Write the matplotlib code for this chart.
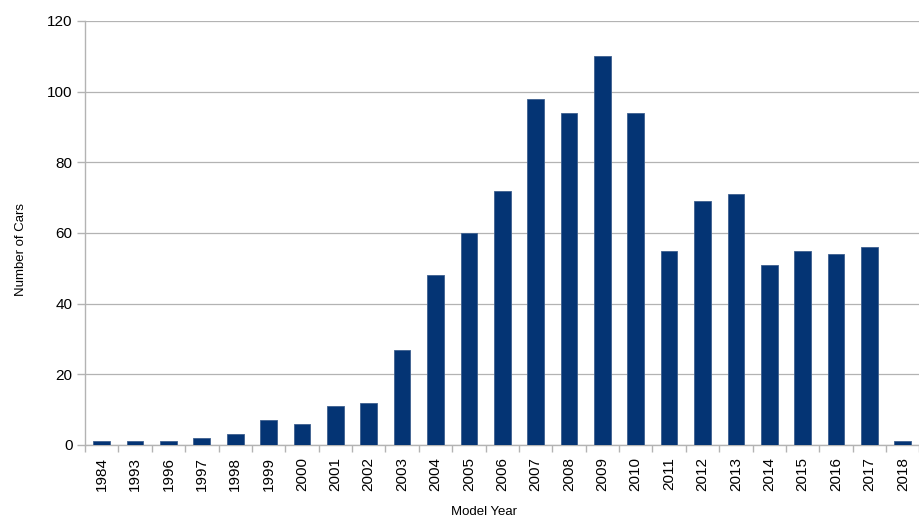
import numpy as np
import matplotlib.pyplot as plt
from matplotlib.ticker import MultipleLocator, FixedLocator

plt.rcParams['font.family'] = ['Liberation Sans', 'DejaVu Sans']

# data
years = ['1984', '1993', '1996', '1997', '1998', '1999', '2000', '2001', '2002',
         '2003', '2004', '2005', '2006', '2007', '2008', '2009', '2010', '2011',
         '2012', '2013', '2014', '2015', '2016', '2017', '2018']
cars = [1, 1, 1, 2, 3, 7, 6, 11, 12, 27, 48, 60, 72, 98, 94, 110, 94, 55,
        69, 71, 51, 55, 54, 56, 1]

fig = plt.figure(figsize=(9.2, 5.18), dpi=100)
ax = fig.add_axes([0.0924, 0.141, 0.907, 0.8185])

x = np.arange(len(years))
ax.bar(x, cars, width=0.5, color='#043474', edgecolor='#3d5f8f', linewidth=0.6, zorder=3)

ax.set_xlim(-0.5, len(years) - 0.5)
ax.set_ylim(0, 120)
ax.yaxis.set_major_locator(MultipleLocator(20))
ax.grid(axis='y', color='#b3b3b3', linewidth=0.9, zorder=0)

# labels at bar centres, tick marks at category boundaries
ax.set_xticks(x)
ax.set_xticklabels(years, rotation=90, fontsize=11)
ax.xaxis.set_minor_locator(FixedLocator(np.arange(len(years) + 1) - 0.5))
ax.tick_params(axis='x', which='major', length=0, pad=9)
ax.tick_params(axis='x', which='minor', length=5, width=1, color='#b3b3b3')
ax.tick_params(axis='y', length=6, width=1, color='#b3b3b3', labelsize=11, pad=3)

for s in ['top', 'right']:
    ax.spines[s].set_visible(False)
for s in ['left', 'bottom']:
    ax.spines[s].set_color('#b3b3b3')
    ax.spines[s].set_linewidth(1)

ax.set_xlabel('Model Year', fontsize=9.5)
ax.set_ylabel('Number of Cars', fontsize=9.5)
ax.xaxis.set_label_coords(0.478, -0.143)
ax.yaxis.set_label_coords(-0.07, 0.46)

fig.savefig('out.png', dpi=100)
